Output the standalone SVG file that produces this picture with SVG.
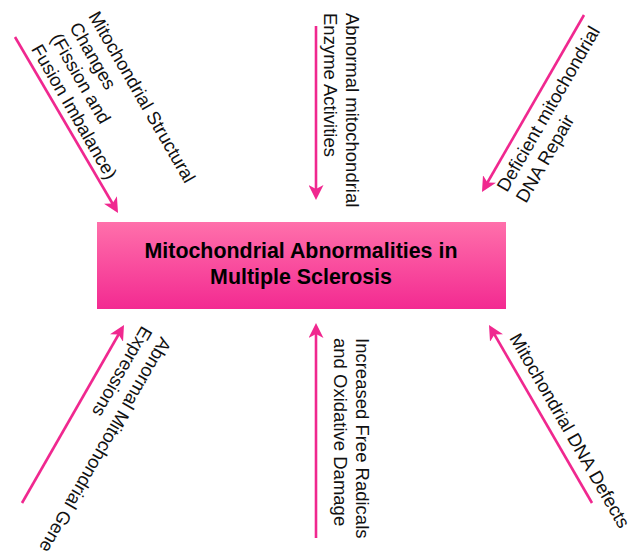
<svg xmlns="http://www.w3.org/2000/svg" width="634" height="552" viewBox="0 0 634 552">
<style>
.lbl{font-family:"Liberation Sans",Arial,sans-serif;font-size:18.5px;fill:#111;}
.ttl{font-family:"Liberation Sans",Arial,sans-serif;font-size:21.4px;font-weight:bold;fill:#000;text-anchor:middle;}
.arr{stroke:#f0288f;stroke-width:2.6;fill:none;marker-end:url(#ah);}
</style>
<defs>
<linearGradient id="g" x1="0" y1="0" x2="0" y2="1">
<stop offset="0" stop-color="#ff70ab"/>
<stop offset="1" stop-color="#f32a91"/>
</linearGradient>
<marker id="ah" viewBox="0 0 15 15" markerWidth="15" markerHeight="15" refX="11" refY="7.5" orient="auto" markerUnits="userSpaceOnUse">
<path d="M0,0 L15,7.5 L0,15 L4,7.5 Z" fill="#f0288f"/>
</marker>
</defs>
<rect width="634" height="552" fill="#fff"/>
<g id="connectors">
<line class="arr" x1="15" y1="37" x2="116" y2="209.5"/>
<line class="arr" x1="316" y1="26" x2="316" y2="196"/>
<line class="arr" x1="584" y1="15" x2="484" y2="188.5"/>
<line class="arr" x1="22" y1="503" x2="122" y2="328.5"/>
<line class="arr" x1="316" y1="538" x2="316" y2="327"/>
<line class="arr" x1="592" y1="503" x2="491" y2="328.5"/>
</g>
<g id="center">
<rect x="97" y="222" width="409" height="87" fill="url(#g)"/>
<text class="ttl" x="301" y="258">Mitochondrial Abnormalities in</text>
<text class="ttl" x="301" y="284">Multiple Sclerosis</text>
</g>
<g id="structural">
<text class="lbl" transform="translate(88,16) rotate(60)"><tspan x="0" y="0">Mitochondrial Structural</tspan><tspan x="0" dy="22">Changes</tspan><tspan x="0" dy="22">(Fission and</tspan><tspan x="0" dy="22">Fusion Imbalance)</tspan></text>
</g>
<g id="enzyme">
<text class="lbl" transform="translate(346,13) rotate(90)"><tspan x="0" y="0">Abnormal mitochondrial</tspan><tspan x="0" dy="22">Enzyme Activities</tspan></text>
</g>
<g id="repair">
<text class="lbl" transform="translate(507,193) rotate(-60)"><tspan x="0" y="0">Deficient mitochondrial</tspan><tspan x="0" dy="22">DNA Repair</tspan></text>
</g>
<g id="gene">
<text class="lbl" transform="translate(161,336) rotate(120)"><tspan x="0" y="0">Abnormal Mitochondrial Gene</tspan><tspan x="0" dy="22">Expressions</tspan></text>
</g>
<g id="radicals">
<text class="lbl" transform="translate(356,338) rotate(90)"><tspan x="0" y="0">Increased Free Radicals</tspan><tspan x="0" dy="22.5">and Oxidative Damage</tspan></text>
</g>
<g id="dnadefects">
<text class="lbl" transform="translate(509,338) rotate(60)">Mitochondrial DNA Defects</text>
</g>
</svg>
